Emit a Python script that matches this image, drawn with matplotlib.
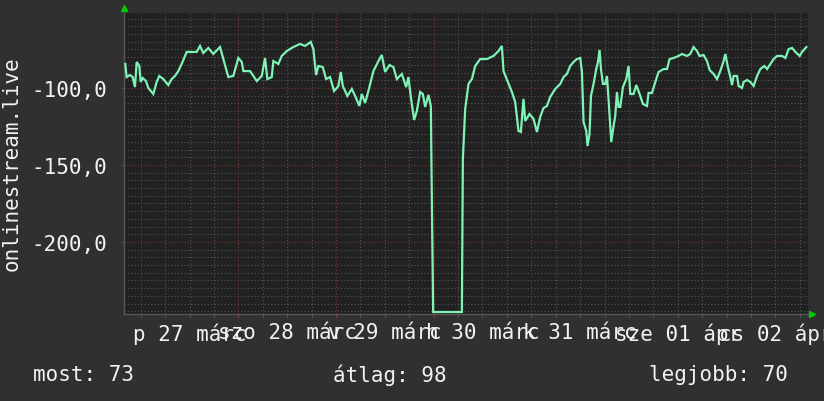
import matplotlib.pyplot as plt
import numpy as np

# hours since midnight of 27 March, value (negated, as rrdtool draws it)
hours = [-3.79, -3.44, -2.63, -1.97, -1.40, -0.98, -0.34, 0.0, 0.49, 1.30, 1.87, 3.10, 3.93, 4.57,
         5.56, 6.79, 7.62, 8.43, 9.25, 10.08, 11.31, 12.54, 13.77, 14.58, 15.39, 16.62, 17.85,
         19.50, 20.31, 21.54, 22.77, 24.0, 24.84, 25.23, 26.88, 28.53, 29.75, 30.57, 31.13, 32.21,
         32.61, 33.84, 34.67, 35.90, 37.52, 39.17, 40.40, 41.80, 42.44, 43.11, 43.67, 44.75, 45.57,
         46.55, 47.53, 48.59, 49.18, 49.67, 50.80, 51.89, 52.70, 53.75, 54.34, 55.16, 55.97, 57.20,
         58.43, 59.26, 60.07, 61.13, 62.11, 62.95, 64.18, 65.24, 65.80, 66.39, 67.20, 67.87, 68.68,
         69.34, 69.91, 70.72, 71.31, 71.56, 71.88, 78.94, 79.18, 79.75, 80.56, 81.40, 82.21, 83.44,
         85.08, 86.71, 87.94, 88.77, 89.17, 90.15, 91.23, 92.04, 92.85, 93.44, 94.08, 94.50, 95.56,
         96.54, 97.38, 98.19, 99.0, 99.84, 100.65, 101.88, 103.11, 103.92, 104.76, 105.57, 106.38,
         107.21, 108.03, 108.44, 108.84, 109.50, 109.82, 110.31, 110.66, 111.30, 111.96, 112.38,
         112.77, 113.12, 113.61, 114.17, 114.59, 114.98, 115.65, 116.21, 116.63, 117.05, 117.44,
         117.86, 118.52, 119.34, 119.90, 120.32, 121.13, 121.80, 122.61, 123.44, 124.43, 124.82,
         125.66, 126.47, 127.28, 128.51, 129.35, 129.98, 130.97, 132.20, 133.03, 134.26, 135.07,
         135.88, 136.71, 137.35, 138.34, 139.18, 139.82, 140.80, 141.64, 142.45, 143.26, 143.68,
         144.25, 144.91, 145.33, 145.72, 146.56, 146.95, 147.79, 148.18, 149.02, 149.83, 150.64,
         151.48, 152.29, 153.27, 153.94, 154.75, 155.56, 156.40, 157.63, 158.44, 159.25, 160.09,
         160.90, 161.95, 162.54, 163.60]
values = [-84.4, -92.9, -91.6, -92.9, -99.4, -83.1, -85.7, -96.1, -93.5, -95.5, -100.0, -103.9, -96.1,
          -92.2, -94.2, -98.1, -94.2, -92.2, -89.0, -84.4, -76.6, -76.6, -76.6, -72.7, -77.3, -74.0,
          -77.9, -73.4, -81.2, -92.9, -92.2, -80.5, -83.1, -89.0, -89.0, -95.5, -92.2, -80.5, -94.2,
          -92.9, -82.5, -84.4, -79.2, -76.0, -73.4, -71.4, -72.7, -70.1, -74.7, -91.6, -85.7, -86.4,
          -94.2, -92.9, -102.0, -98.7, -89.6, -98.7, -105.2, -100.6, -105.2, -111.7, -103.9, -109.7,
          -101.9, -89.0, -82.5, -78.6, -89.6, -85.1, -86.4, -94.2, -90.9, -99.4, -92.9, -105.8,
          -120.8, -114.9, -102.6, -103.9, -112.3, -104.5, -111.7, -174.0, -245.5, -245.5, -146.1,
          -113.6, -97.4, -94.2, -85.7, -81.2, -81.2, -79.2, -76.0, -72.7, -89.0, -95.5, -102.6,
          -109.1, -127.9, -128.6, -107.1, -121.4, -116.9, -120.1, -128.6, -118.8, -113.0, -111.7,
          -105.8, -100.6, -97.4, -92.9, -90.9, -85.7, -83.1, -81.2, -80.5, -89.6, -122.1, -127.9,
          -137.7, -129.9, -105.2, -97.4, -87.7, -83.1, -75.3, -87.7, -97.4, -97.4, -92.2, -107.1,
          -135.1, -124.7, -118.2, -102.6, -112.3, -112.3, -99.4, -94.2, -85.7, -103.9, -103.9, -98.1,
          -103.9, -110.4, -111.7, -103.2, -103.2, -96.1, -89.6, -87.7, -87.7, -81.2, -80.5, -79.2,
          -77.9, -79.2, -77.9, -73.4, -76.0, -79.2, -78.6, -82.5, -88.3, -90.9, -94.2, -89.0, -82.5,
          -77.9, -85.7, -92.9, -98.1, -92.2, -92.2, -98.7, -100.0, -96.1, -94.8, -96.1, -98.7, -92.2,
          -87.7, -85.7, -87.7, -84.4, -81.2, -79.2, -79.2, -80.5, -74.7, -74.0, -76.6, -79.2, -76.6,
          -73.4]

day_labels = ["p 27 márc", "szo 28 márc", "v 29 márc", "h 30 márc", "k 31 márc", "sze 01 ápr", "cs 02 ápr"]
y_major = [-100, -150, -200]
y_major_labels = ["-100,0", "-150,0", "-200,0"]
legend_texts = ["most: 73", "átlag: 98", "legjobb: 70"]

bg = "#303030"
plot_bg = "#212121"
txt = "#f2f2f2"
minor_c = "#555555"
major_c = "#7a3838"
line_c = "#7ff2b6"
mono = "DejaVu Sans Mono"

fig = plt.figure(figsize=(8.24, 4.02), dpi=100, facecolor=bg)
ax = fig.add_axes([124 / 824, 1 - 315 / 402, 684 / 824, 301 / 402])
ax.set_facecolor(plot_bg)

# grid
day_lines = np.arange(0, 168, 24)
six_h = [h for h in range(6, 164, 6) if h % 24 != 0]
for h in six_h:
    ax.axvline(h, color=minor_c, lw=0.8, ls=(0, (1, 2)), zorder=1)
for v in np.arange(-245, -50, 5):
    if v not in y_major:
        ax.axhline(v, color=minor_c, lw=0.8, ls=(0, (1, 2)), zorder=1)
for h in day_lines:
    ax.axvline(h, color=major_c, lw=0.8, ls=(0, (1, 2)), zorder=1.5)
for v in y_major:
    ax.axhline(v, color=major_c, lw=0.8, ls=(0, (1, 2)), zorder=1.5)

ax.plot(hours, values, color=line_c, lw=1.6, zorder=3, solid_joinstyle="miter")

# ticks
ax.set_yticks(y_major, y_major_labels)
ax.tick_params(axis="y", colors=minor_c, labelcolor=txt, labelsize=15, length=2, pad=10)
ax.set_xticks(day_lines, [""] * len(day_lines))
ax.tick_params(axis="x", which="major", colors=major_c, length=3)
noon = [24 * i + 12 for i in range(len(day_labels))]
ax.set_xticks(six_h, [day_labels[noon.index(h)] if h in noon else "" for h in six_h], minor=True)
ax.tick_params(axis="x", which="minor", colors=minor_c, labelcolor=txt, labelsize=15, length=3, pad=3)
for lab in ax.get_yticklabels() + ax.get_xticklabels(minor=True):
    lab.set_family(mono)

ax.set_xlim(-4.1, 164.0)
ax.set_ylim(-246.8, -51.3)

for s in ["top", "right"]:
    ax.spines[s].set_visible(False)
for s in ["left", "bottom"]:
    ax.spines[s].set_color("#555555")
    ax.spines[s].set_linewidth(1)

# rrdtool arrows
ax.plot([0], [1.015], marker="^", color="#00cc00", ms=5, transform=ax.transAxes, clip_on=False)
ax.plot([1.006], [0.0], marker=">", color="#00cc00", ms=5, transform=ax.transAxes, clip_on=False)

fig.text(12 / 824, 1 - 164 / 402, "onlinestream.live", rotation=90, ha="center", va="center",
         color=txt, fontsize=15, family=mono)

xs = [33, 333, 649]
for x, t in zip(xs, legend_texts):
    fig.text(x / 824, 1 - 375 / 402, t, ha="left", va="center", color=txt, fontsize=15, family=mono)

fig.savefig("out.png", dpi=100, facecolor=bg)
